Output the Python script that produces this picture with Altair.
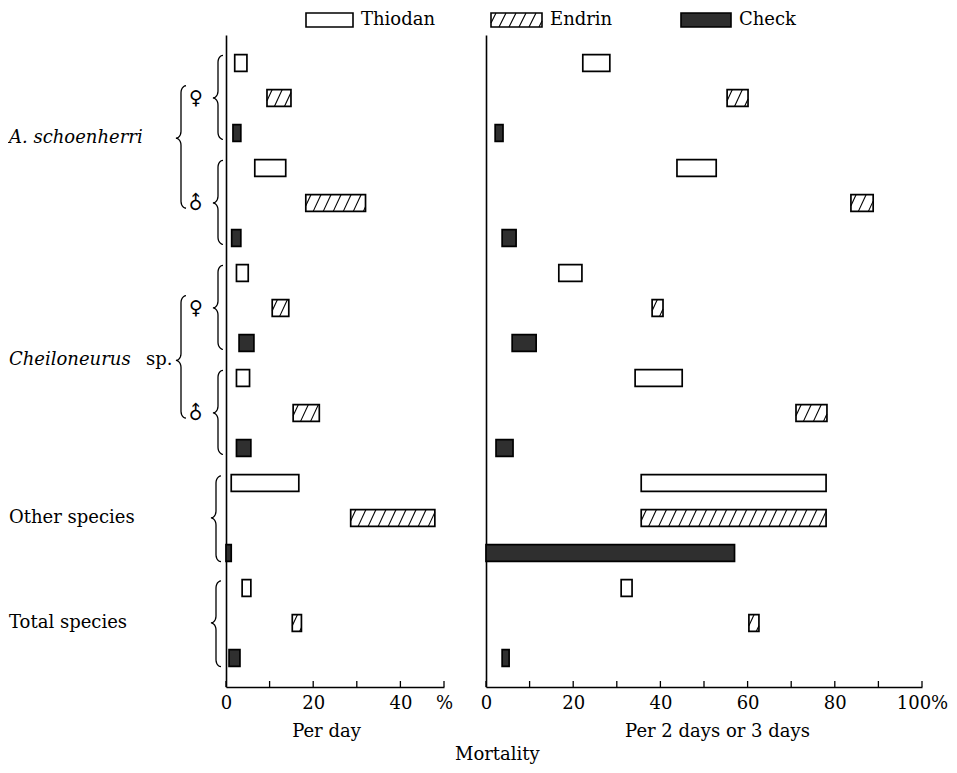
import math
import altair as alt
import pandas as pd

# ---------------- data ----------------
treatments = ["Thiodan", "Endrin", "Check"]
groups = ["A. schoenherri ♀", "A. schoenherri ♂", "Cheiloneurus sp. ♀",
          "Cheiloneurus sp. ♂", "Other species", "Total species"]
species = ["A. schoenherri", "Cheiloneurus", "Other species", "Total species"]
sexes = ["♀", "♂", "♀", "♂"]

# mortality per day (%), low / high end of each range
per_day_low = [2.0, 9.4, 1.6, 6.6, 18.3, 1.3, 2.4, 10.6, 3.0,
               2.4, 15.4, 2.4, 1.2, 28.6, 0.0, 3.7, 15.2, 0.7]
per_day_high = [4.8, 14.9, 3.4, 13.7, 32.0, 3.4, 5.1, 14.4, 6.4,
                5.4, 21.4, 5.7, 16.7, 47.9, 1.2, 5.7, 17.3, 3.2]
# mortality per 2 days or 3 days (%)
per_2_3_low = [22.2, 55.3, 2.1, 43.8, 83.7, 3.7, 16.7, 38.1, 6.0,
               34.2, 71.1, 2.3, 35.6, 35.6, 0.0, 31.0, 60.3, 3.7]
per_2_3_high = [28.4, 60.1, 3.9, 52.8, 88.8, 6.9, 22.0, 40.6, 11.5,
                45.0, 78.2, 6.2, 78.0, 78.0, 57.0, 33.5, 62.6, 5.3]

left_ticks = [0, 10, 20, 30, 40, 50]
left_labels = [0, 20, 40, 50]
right_ticks = [0, 10, 20, 30, 40, 50, 60, 70, 80, 90, 100]
right_labels = [0, 20, 40, 60, 80, 100]

# ---------------- layout / style constants ----------------
FONT = "DejaVu Serif"
FS = 18
UNIT_PX = 4.36
ROW_PX = 35
N = len(groups) * len(treatments)
Y_DOMAIN = [-0.8, N - 1 + 0.83]
H = round((Y_DOMAIN[1] - Y_DOMAIN[0]) * ROW_PX)
HALF = 0.24
CHECK_FILL = "#2f2f2f"
SPECIES_TIP_ROWS = [2.15, 8.5]   # where the species braces point

rows = list(range(N))
base_df = pd.DataFrame({
    "row": rows,
    "group": [groups[i // 3] for i in rows],
    "treatment": [treatments[i % 3] for i in rows],
})
base_df["y0"] = base_df["row"] - HALF
base_df["y1"] = base_df["row"] + HALF

fill_scale = alt.Scale(domain=treatments, range=["#ffffff", "#ffffff", CHECK_FILL])


def y_scale():
    return alt.Scale(domain=Y_DOMAIN, reverse=True, nice=False, zero=False)


def hatch(lo, hi, yb, yt, spacing, slant, phase):
    segs = []
    s = lo - slant + phase
    while s < hi:
        t0 = max(0.0, (lo - s) / slant)
        t1 = min(1.0, (hi - s) / slant)
        if t1 - t0 > 0.05:
            segs.append((s + t0 * slant, yb + t0 * (yt - yb),
                         s + t1 * slant, yb + t1 * (yt - yb)))
        s += spacing
    return segs


def data_layer(lo, hi, xmax, ticks, labels, label_expr, title, title_x):
    d = base_df.copy()
    d["lo"] = lo
    d["hi"] = hi
    xs = alt.Scale(domain=[0, xmax], nice=False, zero=True)
    xaxis = alt.Axis(values=labels, labelExpr=label_expr, ticks=False, grid=False,
                     domainColor="black", domainWidth=1.6, labelPadding=7,
                     titlePadding=10, labelFlush=False, titleX=title_x)
    yaxis = alt.Axis(labels=False, ticks=False, grid=False,
                     domainColor="black", domainWidth=1.6)
    bars = alt.Chart(d).mark_rect(stroke="black", strokeWidth=1.7).encode(
        x=alt.X("lo:Q", scale=xs, axis=xaxis, title=title),
        x2="hi:Q",
        y=alt.Y("y0:Q", scale=y_scale(), axis=yaxis, title=None),
        y2="y1:Q",
        fill=alt.Fill("treatment:N", scale=fill_scale, legend=None),
    )
    segs = []
    for r, a, b, t in zip(d["row"], lo, hi, d["treatment"]):
        if t == "Endrin":
            segs += hatch(a, b, r + HALF, r - HALF, 2.3, 1.8, 1.2)
    hd = pd.DataFrame(segs, columns=["hx1", "hy1", "hx2", "hy2"])
    hatch_layer = alt.Chart(hd).mark_rule(color="black", strokeWidth=1.1).encode(
        x=alt.X("hx1:Q", scale=xs, title=title),
        x2="hx2:Q",
        y=alt.Y("hy1:Q", scale=y_scale(), title=None),
        y2="hy2:Q",
    )
    tick_layer = alt.Chart(pd.DataFrame({"t": ticks})).mark_rule(
        color="black", strokeWidth=1.3).encode(
        x=alt.X("t:Q", scale=xs, title=title),
        y=alt.value(H),
        y2=alt.value(H - 6),
    )
    return alt.layer(bars, hatch_layer, tick_layer)


# ---------------- legend (pixel positions relative to each panel) ----------------
LEG_BOX = {"Thiodan": (80, 127), "Endrin": (5, 56), "Check": (195, 245)}
LEG_Y = (-22, -8)


def legend_layer(names):
    ld = pd.DataFrame({
        "name": names,
        "bx1": [LEG_BOX[n][0] for n in names],
        "bx2": [LEG_BOX[n][1] for n in names],
    })
    ld["tx"] = ld["bx2"] + 8
    ld["y1"] = LEG_Y[0]
    ld["y2"] = LEG_Y[1]
    ld["ty"] = (LEG_Y[0] + LEG_Y[1]) / 2
    boxes = alt.Chart(ld).mark_rect(stroke="black", strokeWidth=1.6).encode(
        x=alt.X("bx1:Q", scale=None, axis=None), x2="bx2:Q",
        y=alt.Y("y1:Q", scale=None, axis=None), y2="y2:Q",
        fill=alt.Fill("name:N", scale=fill_scale, legend=None))
    texts = alt.Chart(ld).mark_text(
        font=FONT, fontSize=FS, align="left", baseline="middle", color="black").encode(
        x=alt.X("tx:Q", scale=None, axis=None),
        y=alt.Y("ty:Q", scale=None, axis=None),
        text="name:N")
    layers = [boxes]
    if "Endrin" in names:
        lh = pd.DataFrame(hatch(LEG_BOX["Endrin"][0], LEG_BOX["Endrin"][1],
                                LEG_Y[1], LEG_Y[0], 10, 7, 5),
                          columns=["hx1", "hy1", "hx2", "hy2"])
        layers.append(alt.Chart(lh).mark_rule(color="black", strokeWidth=1.1).encode(
            x=alt.X("hx1:Q", scale=None, axis=None), x2="hx2:Q",
            y=alt.Y("hy1:Q", scale=None, axis=None), y2="hy2:Q"))
    layers.append(texts)
    return alt.layer(*layers)


# ---------------- row labels with braces (x in px left of the left panel) ----------------
def brace(top, bottom, tip, xl, w, h, bid):
    pts = []
    k = 6
    cx, cy = xl + w, top + h
    for i in range(k + 1):
        t = math.pi / 2 * i / k
        pts.append((cx - w * math.sin(t), cy - h * math.cos(t)))
    cx, cy = xl - w, tip - h
    for i in range(k + 1):
        t = math.pi / 2 * i / k
        pts.append((cx + w * math.cos(t), cy + h * math.sin(t)))
    cx, cy = xl - w, tip + h
    for i in range(k + 1):
        t = math.pi / 2 * i / k
        pts.append((cx + w * math.sin(t), cy - h * math.cos(t)))
    cx, cy = xl + w, bottom - h
    for i in range(k + 1):
        t = math.pi / 2 * i / k
        pts.append((cx - w * math.cos(t), cy + h * math.sin(t)))
    return [(bid, j, x, y) for j, (x, y) in enumerate(pts)]


brace_pts = []
bid = 0
for g in range(4):  # sex sub-groups
    first, last = 3 * g, 3 * g + 2
    brace_pts += brace(first - 0.22, last + 0.18, first + 1, -8, 5, 0.2, bid)
    bid += 1
sp_tips = []
for s in range(2):  # species braces spanning both sexes
    mf, mm = 6 * s + 1, 6 * s + 4
    top, bottom = mf - 0.35, mm + 0.15
    tip = SPECIES_TIP_ROWS[s]
    sp_tips.append(tip)
    brace_pts += brace(top, bottom, tip, -45, 5, 0.2, bid)
    bid += 1
for g in (4, 5):  # other / total
    first, last = 3 * g, 3 * g + 2
    brace_pts += brace(first - 0.2, last + 0.25, first + 1, -10, 5, 0.2, bid)
    sp_tips.append(first + 1)
    bid += 1

bdf = pd.DataFrame(brace_pts, columns=["bid", "ord", "bx", "by"])
braces = alt.Chart(bdf).mark_line(color="black", strokeWidth=1.3).encode(
    x=alt.X("bx:Q", scale=None, axis=None),
    y=alt.Y("by:Q", scale=y_scale(), axis=None),
    detail="bid:N",
    order="ord:Q",
)
italic_df = pd.DataFrame({"label": species[:2], "row": sp_tips[:2], "lx": [-217, -217]})
roman_df = pd.DataFrame({"label": ["sp.", species[2], species[3]],
                         "row": [sp_tips[1], sp_tips[2], sp_tips[3]],
                         "lx": [-80, -217, -217]})
italic_text = alt.Chart(italic_df).mark_text(
    font=FONT, fontSize=FS, fontStyle="italic", align="left", baseline="middle",
    color="black").encode(
    x=alt.X("lx:Q", scale=None, axis=None),
    y=alt.Y("row:Q", scale=y_scale(), axis=None),
    text="label:N")
roman_text = alt.Chart(roman_df).mark_text(
    font=FONT, fontSize=FS, align="left", baseline="middle", color="black").encode(
    x=alt.X("lx:Q", scale=None, axis=None),
    y=alt.Y("row:Q", scale=y_scale(), axis=None),
    text="label:N")
sex_df = pd.DataFrame({"sex": sexes, "row": [1, 4, 7, 10], "sx": [-30] * 4})
fem = alt.Chart(sex_df[sex_df["sex"] == "♀"]).mark_text(
    font="DejaVu Sans", fontSize=19, align="center", baseline="middle",
    color="black").encode(
    x=alt.X("sx:Q", scale=None, axis=None),
    y=alt.Y("row:Q", scale=y_scale(), axis=None),
    text="sex:N")
mal = alt.Chart(sex_df[sex_df["sex"] == "♂"]).mark_text(
    font="DejaVu Sans", fontSize=19, align="center", baseline="middle",
    angle=315, color="black").encode(
    x=alt.X("sx:Q", scale=None, axis=None),
    y=alt.Y("row:Q", scale=y_scale(), axis=None),
    text="sex:N")
label_layer = alt.layer(braces, italic_text, roman_text, fem, mal)

# ---------------- panels ----------------
left = alt.layer(
    data_layer(per_day_low, per_day_high, 50, left_ticks, left_labels,
               "datum.value == 50 ? '%' : datum.label", "Per day", 100),
    label_layer,
    legend_layer(["Thiodan"]),
).resolve_scale(x="independent", y="independent").properties(
    width=round(50 * UNIT_PX), height=H)

right = alt.layer(
    data_layer(per_2_3_low, per_2_3_high, 100, right_ticks, right_labels,
               "datum.value == 100 ? '100%' : datum.label", "Per 2 days or 3 days", 231),
    legend_layer(["Endrin", "Check"]),
).resolve_scale(x="independent", y="independent").properties(
    width=round(100 * UNIT_PX), height=H)

chart = alt.hconcat(left, right, spacing=27).properties(
    title=alt.TitleParams("Mortality", orient="bottom", anchor="middle", dx=19, offset=6),
    padding={"left": 1, "top": 3, "right": 0, "bottom": 0},
).configure_view(stroke=None).configure_axis(
    labelFont=FONT, titleFont=FONT, labelFontSize=FS, titleFontSize=FS,
    titleFontWeight="normal", labelColor="black", titleColor="black",
).configure_title(font=FONT, fontSize=FS, fontWeight="normal", color="black")

chart.save("out.html", embed_options={"renderer": "svg", "actions": False})
